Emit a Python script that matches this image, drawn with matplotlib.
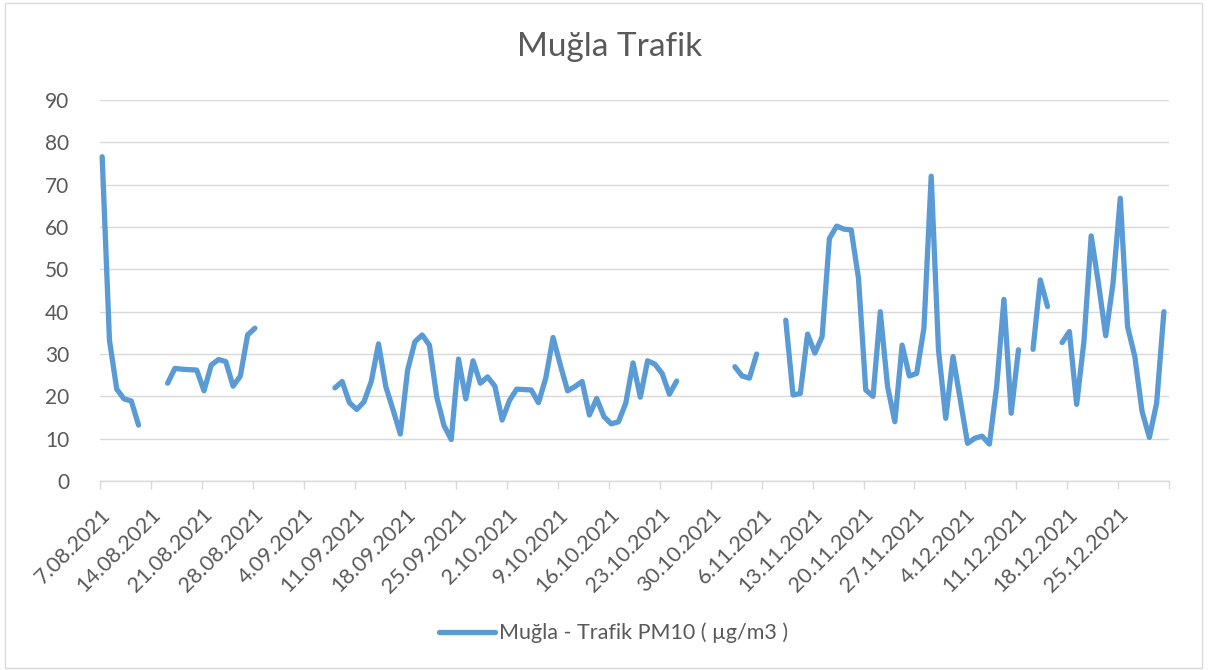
import numpy as np
import pandas as pd
import matplotlib
matplotlib.use("Agg")
import matplotlib.pyplot as plt
from matplotlib.patches import Rectangle

plt.rcParams['font.family'] = ['Lato', 'DejaVu Sans']

# daily PM10, 7.08.2021 - 31.12.2021 (None = no measurement)
start_date = "2021-08-07"
pm10 = [
    76.6, 33.3, 21.7, 19.4, 18.9, 13.2, None, None, None,
    23.1, 26.6, 26.4, 26.3, 26.2, 21.3, 27.4, 28.7, 28.2, 22.4, 24.8, 34.5, 36.1,
    None, None, None, None, None, None, None, None, None, None,
    22.0, 23.5, 18.5, 16.9, 18.7, 23.5, 32.4, 22.3, 16.8, 11.1,
    26.2, 32.9, 34.5, 32.1, 19.9, 13.1, 9.8, 28.8, 19.4, 28.4,
    23.1, 24.6, 22.4, 14.4, 19.0, 21.7, 21.6, 21.5, 18.5, 24.3,
    33.9, 27.4, 21.3, 22.3, 23.5, 15.6, 19.5, 15.2, 13.5, 14.0,
    18.4, 27.9, 19.8, 28.4, 27.6, 25.4, 20.5, 23.6,
    None, None, None, None, None, None, None,
    27.0, 24.8, 24.3, 30.0,
    None, None, None,
    38.0, 20.3, 20.7, 34.7, 30.2, 34.1, 57.3, 60.2, 59.5, 59.3,
    47.9, 21.5, 20.0, 40.0, 22.3, 14.0, 32.1, 24.8, 25.4, 36.1,
    72.0, 31.0, 14.8, 29.4, 19.1, 8.9, 10.1, 10.6, 8.7, 22.3,
    42.9, 16.0, 31.0,
    None,
    31.1, 47.5, 41.2,
    None,
    32.7, 35.3, 18.1, 32.9, 57.9, 46.7, 34.3, 46.7, 66.8, 36.5,
    29.4, 16.4, 10.3, 18.4, 40.0,
]
series_label = "Muğla - Trafik PM10 ( µg/m3 )"
title = "Muğla Trafik"

values = np.array([np.nan if v is None else v for v in pm10], dtype=float)
days = np.arange(len(values))

tick_days = np.arange(0, len(values) + 1, 7)
tick_dates = pd.date_range(start_date, periods=len(tick_days), freq="7D")
tick_labels = [f"{d.day}.{d.month:02d}.{d.year}" for d in tick_dates]
tick_labels[-1] = ""

grey_txt = "#595959"
grid_c = "#D9D9D9"
blue = "#5B9BD5"

fig = plt.figure(figsize=(12.08, 6.70), dpi=100)
fig.patches.append(Rectangle((5 / 1208, 2 / 670), 1197 / 1208, 665 / 670,
                             transform=fig.transFigure, fill=False,
                             edgecolor=grid_c, linewidth=1.0))
ax = fig.add_axes([100 / 1208, (670 - 481) / 670, 1069 / 1208, 381 / 670])

ax.plot(days + 0.3, values, color=blue, linewidth=3.8, solid_capstyle="round",
        solid_joinstyle="round", label=series_label, clip_on=False)

ax.set_xlim(0, tick_days[-1])
ax.set_ylim(0, 90)
ax.set_yticks(np.arange(0, 91, 10))
ax.yaxis.grid(True, color=grid_c, linewidth=1.0)
ax.set_axisbelow(True)
ax.tick_params(axis="y", length=0, labelsize=15, labelcolor=grey_txt, pad=22)

ax.set_xticks(tick_days)
ax.set_xticklabels(tick_labels, rotation=45, ha="right", rotation_mode="anchor")
ax.tick_params(axis="x", length=6, width=1.0, color=grid_c, labelsize=15.5,
               labelcolor=grey_txt, pad=11)

for s in ["top", "right", "left"]:
    ax.spines[s].set_visible(False)
ax.spines["bottom"].set_color(grid_c)
ax.spines["bottom"].set_linewidth(1.0)

fig.text(0.505, 1 - 47 / 670, title, ha="center", va="center", fontsize=24,
         color=grey_txt)
fig.legend(loc="center", bbox_to_anchor=(0.508, 1 - 633 / 670), frameon=False,
           fontsize=15.5, labelcolor=grey_txt, handlelength=2.6,
           handletextpad=0.2)

fig.savefig("out.png", dpi=100)
